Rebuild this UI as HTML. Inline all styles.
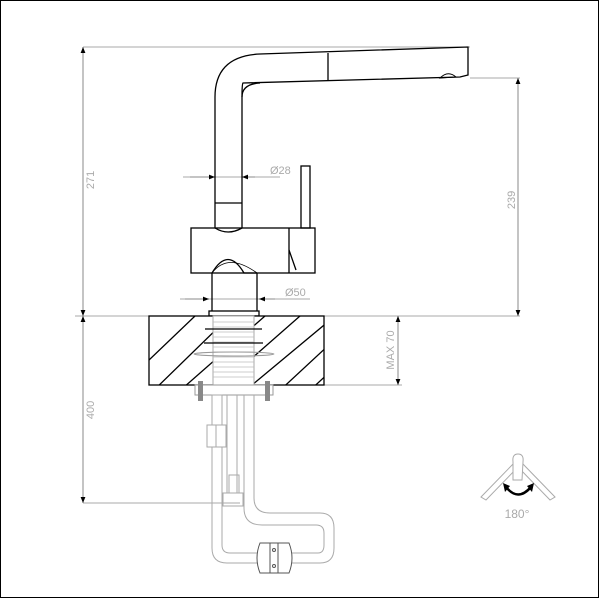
<!DOCTYPE html>
<html><head><style>html,body{margin:0;padding:0;background:#fff}svg{display:block}</style></head>
<body>
<svg width="600" height="599" viewBox="0 0 600 599" xmlns="http://www.w3.org/2000/svg" font-family="Liberation Sans, sans-serif">
<defs>
<marker id="a" viewBox="0 0 10 10" refX="10" refY="5" markerWidth="8" markerHeight="6" orient="auto-start-reverse" markerUnits="userSpaceOnUse"><path d="M0,1 L10,5 L0,9z" fill="#000"/></marker>
<clipPath id="cb"><rect x="149" y="316" width="175" height="69"/></clipPath>
</defs>
<rect x="0.5" y="0.5" width="598" height="597" fill="none" stroke="#000"/>
<!-- dimension lines gray -->
<g stroke="#aaa" stroke-width="1" fill="none">
<line x1="83" y1="47" x2="470" y2="47"/>
<line x1="75" y1="316" x2="520" y2="316"/>
<line x1="470" y1="78" x2="520" y2="78"/>
<line x1="83" y1="503" x2="240" y2="503"/>
<line x1="324" y1="385" x2="402" y2="385"/>
<line x1="183" y1="177" x2="280" y2="177"/>
<line x1="180" y1="299" x2="310" y2="299"/>
</g>
<g stroke="#888" stroke-width="1">
<line x1="83" y1="47" x2="83" y2="316" marker-start="url(#a)" marker-end="url(#a)"/>
<line x1="83" y1="316" x2="83" y2="503" marker-start="url(#a)" marker-end="url(#a)"/>
<line x1="518" y1="78" x2="518" y2="316" marker-start="url(#a)" marker-end="url(#a)"/>
<line x1="398" y1="316" x2="398" y2="385" marker-start="url(#a)" marker-end="url(#a)"/>
<line x1="190" y1="177" x2="215" y2="177" marker-end="url(#a)"/>
<line x1="255" y1="177" x2="242" y2="177" marker-end="url(#a)"/>
<line x1="185" y1="299" x2="209" y2="299" marker-end="url(#a)"/>
<line x1="275" y1="299" x2="259" y2="299" marker-end="url(#a)"/>
</g>
<g fill="#aaa" font-size="11">
<text x="270" y="174">Ø28</text>
<text x="285" y="296">Ø50</text>
<text transform="translate(94,180) rotate(-90)" text-anchor="middle">271</text>
<text transform="translate(94,410) rotate(-90)" text-anchor="middle">400</text>
<text transform="translate(515,200) rotate(-90)" text-anchor="middle">239</text>
<text transform="translate(394,350) rotate(-90)" text-anchor="middle">MAX 70</text>
<text x="517" y="518" text-anchor="middle" font-size="12">180°</text>
</g>
<!-- faucet -->
<g stroke="#000" stroke-width="1.3" fill="none">
<path d="M215,228 L215,97 Q215,56 260,54 L468,47 L468,75 L460,77 L243,83 Q242,84 242,97 L242,228"/>
<path d="M242,97 Q242,84 260,83" />
<line x1="328" y1="53" x2="328" y2="80"/>
<path d="M440,78 Q448,70 456,77 Z" stroke-width="1"/>
<line x1="215" y1="203" x2="242" y2="203"/>
<path d="M215,228 Q228,236 242,228"/>
<rect x="191" y="228" width="124" height="45"/>
<line x1="289" y1="228" x2="289" y2="273"/>
<path d="M289,250 L296,270"/>
<rect x="301" y="166" width="9" height="62"/>
<path d="M212,273 Q228,246 244,273 L257,273"/>
<path d="M212,273 Q228,252 257,273" stroke-width="0.8"/>
<line x1="212" y1="273" x2="212" y2="311"/>
<line x1="257" y1="273" x2="257" y2="311"/>
<rect x="209" y="311" width="50" height="5"/>
</g>
<!-- countertop -->
<rect x="149" y="316" width="175" height="69" fill="#fff" stroke="#000" stroke-width="1.3"/>
<g clip-path="url(#cb)" stroke="#000" stroke-width="1.3">
<line x1="149" y1="360" x2="195" y2="316"/><line x1="149" y1="395" x2="230" y2="316"/>
<line x1="175" y1="395" x2="265" y2="316"/><line x1="210" y1="395" x2="300" y2="316"/>
<line x1="240" y1="395" x2="335" y2="316"/><line x1="275" y1="395" x2="360" y2="316"/>
<line x1="305" y1="395" x2="390" y2="316"/>
</g>
<rect x="213" y="316" width="41" height="69" fill="#fff" stroke="#aaa"/>
<g stroke="#bbb" stroke-width="0.8">
<line x1="213" y1="322" x2="254" y2="322"/><line x1="213" y1="327" x2="254" y2="327"/><line x1="213" y1="332" x2="254" y2="332"/><line x1="213" y1="337" x2="254" y2="337"/><line x1="213" y1="342" x2="254" y2="342"/><line x1="213" y1="347" x2="254" y2="347"/><line x1="213" y1="352" x2="254" y2="352"/><line x1="213" y1="357" x2="254" y2="357"/><line x1="213" y1="362" x2="254" y2="362"/><line x1="213" y1="367" x2="254" y2="367"/><line x1="213" y1="372" x2="254" y2="372"/><line x1="213" y1="377" x2="254" y2="377"/>
</g>
<g stroke="#000" stroke-width="1.2"><line x1="205" y1="329" x2="262" y2="329"/><line x1="204" y1="343" x2="263" y2="343"/></g>
<ellipse cx="234" cy="354" rx="40" ry="2" fill="none" stroke="#999"/>
<!-- nuts & plate -->
<rect x="195" y="385" width="78" height="10" fill="#fff" stroke="#999"/>
<rect x="198" y="381" width="5" height="20" fill="#888"/><rect x="265" y="381" width="5" height="20" fill="#888"/>
<!-- hoses -->
<g stroke="#aaa" stroke-width="1" fill="none">
<path d="M212,447 L212,548 Q212,563 227,563 L320,563 Q334,563 334,548 L334,528 Q334,513 320,513 L270,513 Q254,513 254,498 L254,395"/>
<path d="M222,447 L222,545 Q222,553 230,553 L318,553 Q324,553 324,545 L324,533 Q324,525 316,525 L262,525 Q244,525 244,508 L244,395"/>
<line x1="227" y1="395" x2="227" y2="493"/><line x1="237" y1="395" x2="237" y2="493"/>
<rect x="212" y="395" width="10" height="30"/>
<rect x="207" y="425" width="19" height="22"/><line x1="216" y1="425" x2="216" y2="447"/>
<rect x="223" y="493" width="20" height="13"/>
<rect x="229" y="475" width="10" height="18"/>
</g>
<g stroke="#555" stroke-width="1" fill="#fff">
<path d="M260,543 L289,543 Q295,558 289,573 L260,573 Q254,558 260,543Z"/>
<rect x="270" y="543" width="8" height="30" fill="none"/>
<circle cx="274" cy="550" r="1.5"/><circle cx="274" cy="566" r="1.5"/>
</g>
<!-- rotate icon -->
<g stroke="#aaa" stroke-width="1" fill="none">
<path d="M481,497 L515,462 L519,466 L486,500 Z"/>
<path d="M555,497 L521,462 L517,466 L550,500 Z"/>
<path d="M513,480 L513,462 Q512,454 518,454 Q524,454 523,462 L522,480 Z" fill="#fff"/>
</g>
<path d="M506,487 Q518,502 531,487" stroke="#000" stroke-width="2.5" fill="none"/>
<path d="M503,483 L510,486 L505,492Z M534,483 L527,486 L532,492Z" fill="#000"/>
</svg>
</body></html>
